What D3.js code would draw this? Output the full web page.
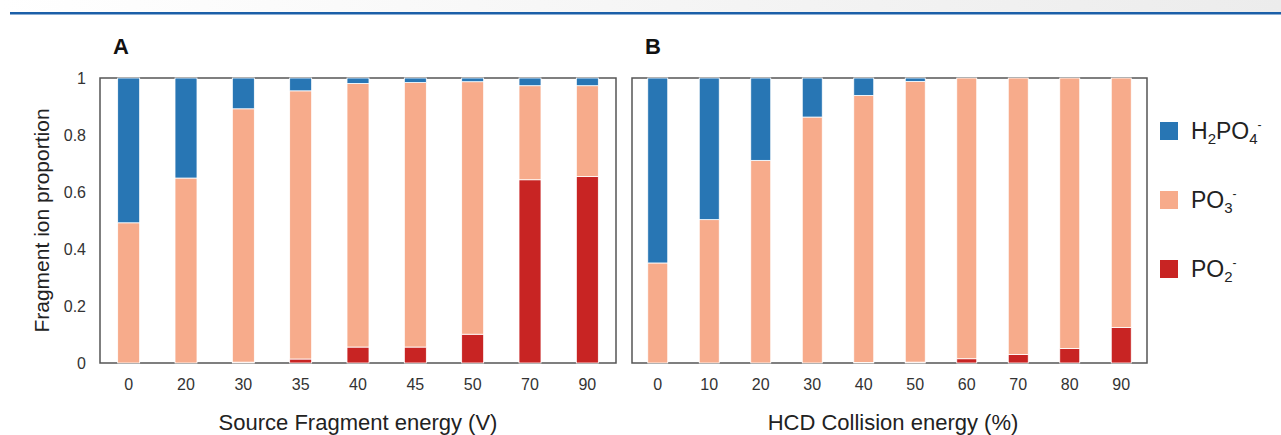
<!DOCTYPE html>
<html>
<head>
<meta charset="utf-8">
<script src="https://cdn.jsdelivr.net/npm/d3@7"></script>
<style>
  body { margin: 0; background: #fff; }
  svg { display: block; font-family: "Liberation Sans", Arial, sans-serif; }
</style>
</head>
<body>
<svg id="chart" width="1281" height="435"></svg>
<script>
// panel A: source fragmentation
var energiesA = ['0', '20', '30', '35', '40', '45', '50', '70', '90'];
var po2A = [0, 0, 0.003, 0.014, 0.056, 0.056, 0.101, 0.643, 0.654];
var po3A = [0.492, 0.649, 0.889, 0.941, 0.925, 0.928, 0.886, 0.330, 0.319];
var h2po4A = [0.508, 0.351, 0.108, 0.045, 0.019, 0.016, 0.013, 0.027, 0.027];

// panel B: HCD
var energiesB = ['0', '10', '20', '30', '40', '50', '60', '70', '80', '90'];
var po2B = [0, 0, 0, 0, 0.002, 0.003, 0.015, 0.030, 0.051, 0.125];
var po3B = [0.351, 0.503, 0.711, 0.863, 0.937, 0.985, 0.985, 0.970, 0.949, 0.875];
var h2po4B = [0.649, 0.497, 0.289, 0.137, 0.061, 0.012, 0, 0, 0, 0];

var yTicks = [0, 0.2, 0.4, 0.6, 0.8, 1];
var yTickLabels = ['0', '0.2', '0.4', '0.6', '0.8', '1'];

var keys = ['po2', 'po3', 'h2po4'];
var colors = { po2: '#c82423', po3: '#f7ab8b', h2po4: '#2876b4' };

var svg = d3.select('#chart');

// header strip
var defs = svg.append('defs');
var grad = defs.append('linearGradient').attr('id', 'hdr');
grad.append('stop').attr('offset', '0%').attr('stop-color', '#fff');
grad.append('stop').attr('offset', '100%').attr('stop-color', '#ececec');
svg.append('rect').attr('x', 0).attr('y', 0).attr('width', 1281).attr('height', 12).attr('fill', 'url(#hdr)');
svg.append('rect').attr('x', 10).attr('y', 12).attr('width', 1271).attr('height', 2.5).attr('fill', '#1b5fa8');

var plotTop = 78, plotBottom = 363;
var y = d3.scaleLinear().domain([0, 1]).range([plotBottom, plotTop]);

function panel(cats, po2, po3, h2, x0, x1, barW, letter) {
  var rows = cats.map(function(c, i) {
    return { cat: c, po2: po2[i], po3: po3[i], h2po4: h2[i] };
  });
  var x = d3.scaleBand().domain(cats).range([x0, x1]);
  var stack = d3.stack().keys(keys)(rows);

  var g = svg.append('g');

  // frame
  g.append('rect')
    .attr('x', x0).attr('y', plotTop)
    .attr('width', x1 - x0).attr('height', plotBottom - plotTop)
    .attr('fill', 'none').attr('stroke', '#555').attr('stroke-width', 1.5);

  g.selectAll('.layer')
    .data(stack)
    .enter().append('g')
    .attr('fill', function(d) { return colors[d.key]; })
    .selectAll('rect')
    .data(function(d) { return d; })
    .enter().append('rect')
    .attr('x', function(d) { return x(d.data.cat) + (x.bandwidth() - barW) / 2; })
    .attr('y', function(d) { return y(d[1]); })
    .attr('width', barW)
    .attr('height', function(d) { return Math.max(0, y(d[0]) - y(d[1])); })
    .attr('stroke', '#fff')
    .attr('stroke-width', 0.8);

  // x tick labels
  g.append('g')
    .attr('transform', 'translate(0,' + plotBottom + ')')
    .call(d3.axisBottom(x).tickSize(0).tickPadding(16))
    .call(function(a) { a.select('.domain').remove(); })
    .selectAll('text')
    .attr('font-size', 16)
    .attr('font-family', '"Liberation Sans", Arial, sans-serif')
    .attr('fill', '#333');

  g.append('text')
    .attr('x', x0 + 13).attr('y', 54)
    .attr('font-size', 22).attr('font-weight', 'bold')
    .attr('fill', '#111')
    .text(letter);

  return x;
}

panel(energiesA, po2A, po3A, h2po4A, 100, 616, 22, 'A');
panel(energiesB, po2B, po3B, h2po4B, 632, 1147, 20, 'B');

// y axis
svg.append('g')
  .attr('transform', 'translate(100,0)')
  .call(d3.axisLeft(y).tickValues(yTicks).tickSize(0).tickPadding(14)
    .tickFormat(function(d, i) { return yTickLabels[i]; }))
  .call(function(a) { a.select('.domain').remove(); })
  .selectAll('text')
  .attr('font-size', 16)
  .attr('font-family', '"Liberation Sans", Arial, sans-serif')
  .attr('fill', '#333');

svg.append('text')
  .attr('transform', 'translate(49,' + (plotTop + plotBottom) / 2 + ') rotate(-90)')
  .attr('text-anchor', 'middle')
  .attr('font-size', 21)
  .attr('fill', '#222')
  .text('Fragment ion proportion');

// x titles
svg.append('text')
  .attr('x', 358).attr('y', 430)
  .attr('text-anchor', 'middle').attr('font-size', 22).attr('fill', '#222')
  .text('Source Fragment energy (V)');
svg.append('text')
  .attr('x', 893).attr('y', 430)
  .attr('text-anchor', 'middle').attr('font-size', 22).attr('fill', '#222')
  .text('HCD Collision energy (%)');

// legend
var legendItems = [
  { key: 'h2po4', parts: [['H', 0], ['2', 1], ['PO', 0], ['4', 1], ['-', 2]] },
  { key: 'po3', parts: [['PO', 0], ['3', 1], ['-', 2]] },
  { key: 'po2', parts: [['PO', 0], ['2', 1], ['-', 2]] }
];
var lg = svg.append('g').attr('transform', 'translate(1160,122)');
legendItems.forEach(function(item, i) {
  var row = lg.append('g').attr('transform', 'translate(0,' + i * 69 + ')');
  row.append('rect').attr('width', 18).attr('height', 18).attr('fill', colors[item.key]);
  var t = row.append('text').attr('x', 31).attr('y', 17).attr('font-size', 23).attr('fill', '#222');
  var dy = 0;
  item.parts.forEach(function(p) {
    var target = p[1] === 1 ? 5 : (p[1] === 2 ? -10 : 0);
    var ts = t.append('tspan').text(p[0]).attr('dy', target - dy);
    if (p[1] === 1) ts.attr('font-size', 15);
    else if (p[1] === 2) ts.attr('font-size', 12);
    dy = target;
  });
});
</script>
</body>
</html>
